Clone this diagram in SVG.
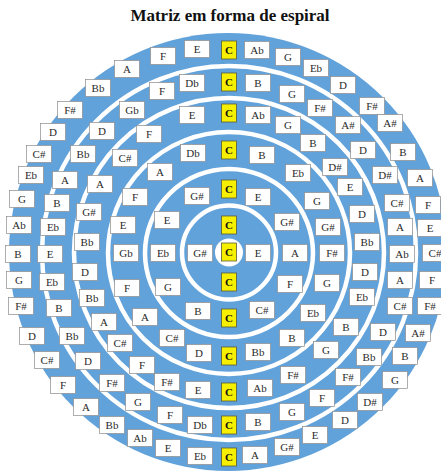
<svg xmlns="http://www.w3.org/2000/svg" width="441" height="473" viewBox="0 0 441 473">
<style>
.bg{fill:#ffffff}
.disk{fill:#62a2da}
.ring{fill:none;stroke:#ffffff;stroke-width:4.5}
.hub{fill:#ffffff}
.w{fill:#ffffff;stroke:#8c8c8c;stroke-width:0.7}
.y{fill:#f6f000;stroke:#5a5a3a;stroke-width:0.8}
text{font-family:"Liberation Serif","Times New Roman",serif;font-size:11px;fill:#2a2a2a;text-anchor:middle}
.c{font-weight:bold;fill:#111}
.title{font-size:17px;font-weight:bold;fill:#111}
</style>
<defs>
<rect id="wb" class="w" x="-12.5" y="-8.5" width="25" height="17"/>
<rect id="yb" class="y" x="-7.5" y="-9" width="15" height="18"/>
</defs>
<rect class="bg" x="0" y="0" width="441" height="473"/>
<text class="title" x="230" y="21">Matriz em forma de espiral</text>
<g id="disk">
<circle class="disk" cx="228" cy="252" r="219"/>
</g>
<g id="rings">
<circle class="hub" cx="229" cy="252.5" r="14"/>
<circle class="ring" cx="229" cy="252.5" r="47"/>
<circle class="ring" cx="229" cy="253" r="84"/>
<circle class="ring" cx="229" cy="253" r="121"/>
<circle class="ring" cx="229" cy="253" r="155"/>
<circle class="ring" cx="229" cy="253" r="187"/>
</g>
<g id="band6">
<g id="b6-C-top" transform="translate(229,50)"><use href="#yb"/><text class="c" y="4">C</text></g>
<g id="b6-E-1" transform="translate(197,49)"><use href="#wb"/><text y="4">E</text></g>
<g id="b6-Ab-1" transform="translate(257,50)"><use href="#wb"/><text y="4">Ab</text></g>
<g id="b6-F-1" transform="translate(163,56)"><use href="#wb"/><text y="4">F</text></g>
<g id="b6-G-1" transform="translate(288,57)"><use href="#wb"/><text y="4">G</text></g>
<g id="b6-A-1" transform="translate(127,69)"><use href="#wb"/><text y="4">A</text></g>
<g id="b6-Eb-1" transform="translate(316,68)"><use href="#wb"/><text y="4">Eb</text></g>
<g id="b6-Bb-1" transform="translate(98,88)"><use href="#wb"/><text y="4">Bb</text></g>
<g id="b6-D-1" transform="translate(343,85)"><use href="#wb"/><text y="4">D</text></g>
<g id="b6-Fs-1" transform="translate(70,110)"><use href="#wb"/><text y="4">F#</text></g>
<g id="b6-Fs-2" transform="translate(372,106)"><use href="#wb"/><text y="4">F#</text></g>
<g id="b6-D-2" transform="translate(53,132)"><use href="#wb"/><text y="4">D</text></g>
<g id="b6-As-1" transform="translate(390,123)"><use href="#wb"/><text y="4">A#</text></g>
<g id="b6-Cs-1" transform="translate(39,154)"><use href="#wb"/><text y="4">C#</text></g>
<g id="b6-B-1" transform="translate(403,152)"><use href="#wb"/><text y="4">B</text></g>
<g id="b6-Eb-2" transform="translate(31,175)"><use href="#wb"/><text y="4">Eb</text></g>
<g id="b6-A-2" transform="translate(420,178)"><use href="#wb"/><text y="4">A</text></g>
<g id="b6-G-2" transform="translate(22,199)"><use href="#wb"/><text y="4">G</text></g>
<g id="b6-F-2" transform="translate(428,205)"><use href="#wb"/><text y="4">F</text></g>
<g id="b6-Ab-2" transform="translate(19,225)"><use href="#wb"/><text y="4">Ab</text></g>
<g id="b6-E-2" transform="translate(430,228)"><use href="#wb"/><text y="4">E</text></g>
<g id="b6-B-2" transform="translate(18,254)"><use href="#wb"/><text y="4">B</text></g>
<g id="b6-Cs-2" transform="translate(435,253)"><use href="#wb"/><text y="4">C#</text></g>
<g id="b6-G-3" transform="translate(19,280)"><use href="#wb"/><text y="4">G</text></g>
<g id="b6-F-3" transform="translate(432,280)"><use href="#wb"/><text y="4">F</text></g>
<g id="b6-Fs-3" transform="translate(21,306)"><use href="#wb"/><text y="4">F#</text></g>
<g id="b6-Fs-4" transform="translate(430,306)"><use href="#wb"/><text y="4">F#</text></g>
<g id="b6-D-3" transform="translate(32,336)"><use href="#wb"/><text y="4">D</text></g>
<g id="b6-As-2" transform="translate(418,333)"><use href="#wb"/><text y="4">A#</text></g>
<g id="b6-Cs-3" transform="translate(47,360)"><use href="#wb"/><text y="4">C#</text></g>
<g id="b6-B-3" transform="translate(405,356)"><use href="#wb"/><text y="4">B</text></g>
<g id="b6-F-4" transform="translate(63,385)"><use href="#wb"/><text y="4">F</text></g>
<g id="b6-G-4" transform="translate(395,380)"><use href="#wb"/><text y="4">G</text></g>
<g id="b6-A-3" transform="translate(86,407)"><use href="#wb"/><text y="4">A</text></g>
<g id="b6-Ds-1" transform="translate(370,402)"><use href="#wb"/><text y="4">D#</text></g>
<g id="b6-Bb-2" transform="translate(112,425)"><use href="#wb"/><text y="4">Bb</text></g>
<g id="b6-D-4" transform="translate(345,420)"><use href="#wb"/><text y="4">D</text></g>
<g id="b6-Ab-3" transform="translate(140,438)"><use href="#wb"/><text y="4">Ab</text></g>
<g id="b6-E-3" transform="translate(315,435)"><use href="#wb"/><text y="4">E</text></g>
<g id="b6-E-4" transform="translate(168,448)"><use href="#wb"/><text y="4">E</text></g>
<g id="b6-Gs-1" transform="translate(287,447)"><use href="#wb"/><text y="4">G#</text></g>
<g id="b6-Eb-3" transform="translate(200,456)"><use href="#wb"/><text y="4">Eb</text></g>
<g id="b6-A-4" transform="translate(255,455)"><use href="#wb"/><text y="4">A</text></g>
<g id="b6-C-bot" transform="translate(229,457)"><use href="#yb"/><text class="c" y="4">C</text></g>
</g>
<g id="band5">
<g id="b5-C-top" transform="translate(229,82)"><use href="#yb"/><text class="c" y="4">C</text></g>
<g id="b5-Db-1" transform="translate(192,83)"><use href="#wb"/><text y="4">Db</text></g>
<g id="b5-B-1" transform="translate(258,83)"><use href="#wb"/><text y="4">B</text></g>
<g id="b5-F-1" transform="translate(162,91)"><use href="#wb"/><text y="4">F</text></g>
<g id="b5-G-1" transform="translate(292,94)"><use href="#wb"/><text y="4">G</text></g>
<g id="b5-Gb-1" transform="translate(132,110)"><use href="#wb"/><text y="4">Gb</text></g>
<g id="b5-Fs-1" transform="translate(320,108)"><use href="#wb"/><text y="4">F#</text></g>
<g id="b5-D-1" transform="translate(102,131)"><use href="#wb"/><text y="4">D</text></g>
<g id="b5-As-1" transform="translate(348,125)"><use href="#wb"/><text y="4">A#</text></g>
<g id="b5-Bb-1" transform="translate(83,154)"><use href="#wb"/><text y="4">Bb</text></g>
<g id="b5-D-2" transform="translate(363,150)"><use href="#wb"/><text y="4">D</text></g>
<g id="b5-A-1" transform="translate(65,180)"><use href="#wb"/><text y="4">A</text></g>
<g id="b5-Ds-1" transform="translate(385,175)"><use href="#wb"/><text y="4">D#</text></g>
<g id="b5-B-2" transform="translate(57,203)"><use href="#wb"/><text y="4">B</text></g>
<g id="b5-Cs-1" transform="translate(397,203)"><use href="#wb"/><text y="4">C#</text></g>
<g id="b5-Eb-1" transform="translate(53,227)"><use href="#wb"/><text y="4">Eb</text></g>
<g id="b5-A-2" transform="translate(400,227)"><use href="#wb"/><text y="4">A</text></g>
<g id="b5-E-1" transform="translate(50,254)"><use href="#wb"/><text y="4">E</text></g>
<g id="b5-Ab-1" transform="translate(402,254)"><use href="#wb"/><text y="4">Ab</text></g>
<g id="b5-Eb-2" transform="translate(52,282)"><use href="#wb"/><text y="4">Eb</text></g>
<g id="b5-A-3" transform="translate(400,280)"><use href="#wb"/><text y="4">A</text></g>
<g id="b5-B-3" transform="translate(59,308)"><use href="#wb"/><text y="4">B</text></g>
<g id="b5-Cs-2" transform="translate(400,306)"><use href="#wb"/><text y="4">C#</text></g>
<g id="b5-Bb-2" transform="translate(72,336)"><use href="#wb"/><text y="4">Bb</text></g>
<g id="b5-D-3" transform="translate(383,332)"><use href="#wb"/><text y="4">D</text></g>
<g id="b5-D-4" transform="translate(88,361)"><use href="#wb"/><text y="4">D</text></g>
<g id="b5-Bb-3" transform="translate(369,357)"><use href="#wb"/><text y="4">Bb</text></g>
<g id="b5-Fs-2" transform="translate(112,383)"><use href="#wb"/><text y="4">F#</text></g>
<g id="b5-Fs-3" transform="translate(348,377)"><use href="#wb"/><text y="4">F#</text></g>
<g id="b5-G-2" transform="translate(138,402)"><use href="#wb"/><text y="4">G</text></g>
<g id="b5-F-2" transform="translate(322,398)"><use href="#wb"/><text y="4">F</text></g>
<g id="b5-F-3" transform="translate(170,415)"><use href="#wb"/><text y="4">F</text></g>
<g id="b5-G-3" transform="translate(292,412)"><use href="#wb"/><text y="4">G</text></g>
<g id="b5-Db-2" transform="translate(200,425)"><use href="#wb"/><text y="4">Db</text></g>
<g id="b5-B-4" transform="translate(258,422)"><use href="#wb"/><text y="4">B</text></g>
<g id="b5-C-bot" transform="translate(229,425)"><use href="#yb"/><text class="c" y="4">C</text></g>
</g>
<g id="band4">
<g id="b4-C-top" transform="translate(229,113)"><use href="#yb"/><text class="c" y="4">C</text></g>
<g id="b4-E-1" transform="translate(192,115)"><use href="#wb"/><text y="4">E</text></g>
<g id="b4-Ab-1" transform="translate(258,115)"><use href="#wb"/><text y="4">Ab</text></g>
<g id="b4-F-1" transform="translate(149,134)"><use href="#wb"/><text y="4">F</text></g>
<g id="b4-G-1" transform="translate(288,125)"><use href="#wb"/><text y="4">G</text></g>
<g id="b4-Cs-1" transform="translate(125,158)"><use href="#wb"/><text y="4">C#</text></g>
<g id="b4-B-1" transform="translate(313,143)"><use href="#wb"/><text y="4">B</text></g>
<g id="b4-A-1" transform="translate(100,184)"><use href="#wb"/><text y="4">A</text></g>
<g id="b4-Ds-1" transform="translate(335,167)"><use href="#wb"/><text y="4">D#</text></g>
<g id="b4-Gs-1" transform="translate(89,212)"><use href="#wb"/><text y="4">G#</text></g>
<g id="b4-E-2" transform="translate(350,187)"><use href="#wb"/><text y="4">E</text></g>
<g id="b4-Bb-1" transform="translate(87,242)"><use href="#wb"/><text y="4">Bb</text></g>
<g id="b4-D-1" transform="translate(362,214)"><use href="#wb"/><text y="4">D</text></g>
<g id="b4-D-2" transform="translate(85,272)"><use href="#wb"/><text y="4">D</text></g>
<g id="b4-Bb-2" transform="translate(367,242)"><use href="#wb"/><text y="4">Bb</text></g>
<g id="b4-Bb-3" transform="translate(92,298)"><use href="#wb"/><text y="4">Bb</text></g>
<g id="b4-D-3" transform="translate(365,272)"><use href="#wb"/><text y="4">D</text></g>
<g id="b4-A-2" transform="translate(104,322)"><use href="#wb"/><text y="4">A</text></g>
<g id="b4-Eb-1" transform="translate(362,297)"><use href="#wb"/><text y="4">Eb</text></g>
<g id="b4-Cs-2" transform="translate(120,343)"><use href="#wb"/><text y="4">C#</text></g>
<g id="b4-B-2" transform="translate(346,327)"><use href="#wb"/><text y="4">B</text></g>
<g id="b4-F-2" transform="translate(142,365)"><use href="#wb"/><text y="4">F</text></g>
<g id="b4-G-2" transform="translate(326,350)"><use href="#wb"/><text y="4">G</text></g>
<g id="b4-Fs-1" transform="translate(167,382)"><use href="#wb"/><text y="4">F#</text></g>
<g id="b4-Fs-2" transform="translate(293,375)"><use href="#wb"/><text y="4">F#</text></g>
<g id="b4-E-3" transform="translate(198,390)"><use href="#wb"/><text y="4">E</text></g>
<g id="b4-Ab-2" transform="translate(260,388)"><use href="#wb"/><text y="4">Ab</text></g>
<g id="b4-C-bot" transform="translate(229,392)"><use href="#yb"/><text class="c" y="4">C</text></g>
</g>
<g id="band3">
<g id="b3-C-top" transform="translate(229,150)"><use href="#yb"/><text class="c" y="4">C</text></g>
<g id="b3-Db-1" transform="translate(193,153)"><use href="#wb"/><text y="4">Db</text></g>
<g id="b3-B-1" transform="translate(262,155)"><use href="#wb"/><text y="4">B</text></g>
<g id="b3-A-1" transform="translate(160,172)"><use href="#wb"/><text y="4">A</text></g>
<g id="b3-Eb-1" transform="translate(298,173)"><use href="#wb"/><text y="4">Eb</text></g>
<g id="b3-F-1" transform="translate(135,197)"><use href="#wb"/><text y="4">F</text></g>
<g id="b3-G-1" transform="translate(317,201)"><use href="#wb"/><text y="4">G</text></g>
<g id="b3-E-1" transform="translate(123,225)"><use href="#wb"/><text y="4">E</text></g>
<g id="b3-Gs-1" transform="translate(328,227)"><use href="#wb"/><text y="4">G#</text></g>
<g id="b3-Gb-1" transform="translate(126,253)"><use href="#wb"/><text y="4">Gb</text></g>
<g id="b3-Fs-1" transform="translate(332,253)"><use href="#wb"/><text y="4">F#</text></g>
<g id="b3-F-2" transform="translate(127,288)"><use href="#wb"/><text y="4">F</text></g>
<g id="b3-G-2" transform="translate(327,283)"><use href="#wb"/><text y="4">G</text></g>
<g id="b3-A-2" transform="translate(145,317)"><use href="#wb"/><text y="4">A</text></g>
<g id="b3-Eb-2" transform="translate(313,313)"><use href="#wb"/><text y="4">Eb</text></g>
<g id="b3-Cs-1" transform="translate(172,338)"><use href="#wb"/><text y="4">C#</text></g>
<g id="b3-B-2" transform="translate(292,338)"><use href="#wb"/><text y="4">B</text></g>
<g id="b3-D-1" transform="translate(199,353)"><use href="#wb"/><text y="4">D</text></g>
<g id="b3-Bb-1" transform="translate(258,352)"><use href="#wb"/><text y="4">Bb</text></g>
<g id="b3-C-bot" transform="translate(229,356)"><use href="#yb"/><text class="c" y="4">C</text></g>
</g>
<g id="band2">
<g id="b2-C-top" transform="translate(229,189)"><use href="#yb"/><text class="c" y="4">C</text></g>
<g id="b2-Gs-1" transform="translate(197,196)"><use href="#wb"/><text y="4">G#</text></g>
<g id="b2-E-1" transform="translate(258,197)"><use href="#wb"/><text y="4">E</text></g>
<g id="b2-E-2" transform="translate(167,220)"><use href="#wb"/><text y="4">E</text></g>
<g id="b2-Gs-2" transform="translate(287,222)"><use href="#wb"/><text y="4">G#</text></g>
<g id="b2-Eb-1" transform="translate(163,253)"><use href="#wb"/><text y="4">Eb</text></g>
<g id="b2-A-1" transform="translate(295,253)"><use href="#wb"/><text y="4">A</text></g>
<g id="b2-G-1" transform="translate(168,287)"><use href="#wb"/><text y="4">G</text></g>
<g id="b2-F-1" transform="translate(290,284)"><use href="#wb"/><text y="4">F</text></g>
<g id="b2-B-1" transform="translate(198,311)"><use href="#wb"/><text y="4">B</text></g>
<g id="b2-Cs-1" transform="translate(262,310)"><use href="#wb"/><text y="4">C#</text></g>
<g id="b2-C-bot" transform="translate(229,318)"><use href="#yb"/><text class="c" y="4">C</text></g>
</g>
<g id="band1">
<g id="b1-C-top" transform="translate(229,225)"><use href="#yb"/><text class="c" y="4">C</text></g>
<g id="b1-Gs-1" transform="translate(200,253)"><use href="#wb"/><text y="4">G#</text></g>
<g id="b1-E-1" transform="translate(258,253)"><use href="#wb"/><text y="4">E</text></g>
<g id="b1-C-bot" transform="translate(229,282)"><use href="#yb"/><text class="c" y="4">C</text></g>
</g>
<g id="center">
<g id="c0-C" transform="translate(229,252)"><use href="#yb"/><text class="c" y="4">C</text></g>
</g>
</svg>
